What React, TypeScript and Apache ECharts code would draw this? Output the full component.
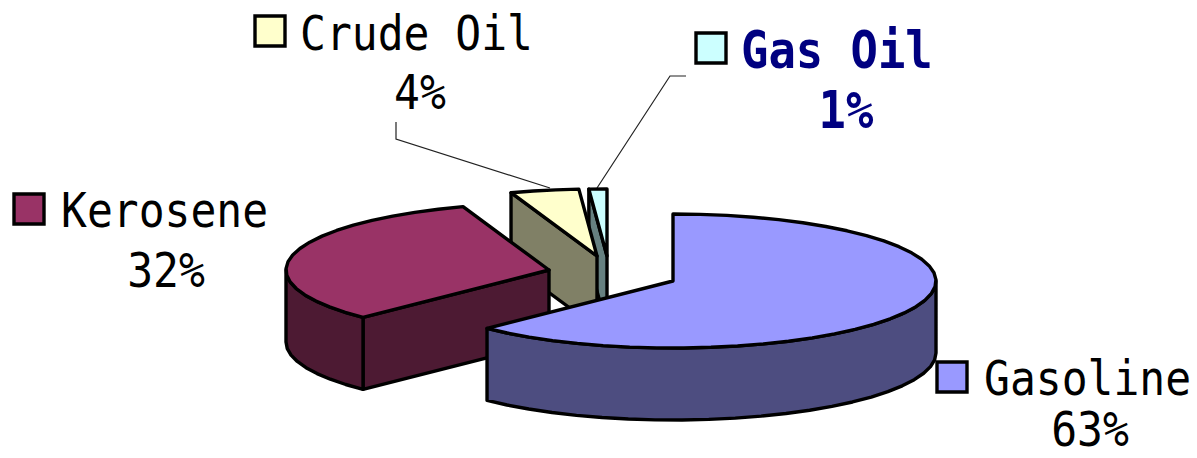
import React, { useEffect, useRef } from "react";
import * as echarts from "echarts";

const categories = ["Gasoline", "Kerosene", "Crude Oil", "Gas Oil"];
const shares = [62.5, 32.2, 4.2, 1.1];
const percentLabels = ["63%", "32%", "4%", "1%"];

const topColors = ["#9999ff", "#993366", "#ffffcc", "#ccffff"];
const sideColors = ["#4d4d80", "#4d1a33", "#808066", "#668080"];
const apexes = [[673, 281], [549, 270], [597, 256], [607, 256]];
const RX = 263;
const RY = 67;
const DEPTH = 72;
const STEP = 6;
const STROKE = 3.4;

const total = shares.reduce((a, b) => a + b, 0);
const startAngles = shares.map((_, i) => (shares.slice(0, i).reduce((a, b) => a + b, 0) / total) * 360);

const rad = (d: number) => (d * Math.PI) / 180;
const rim = (c: number[], a: number, drop = 0) => [
  c[0] + RX * Math.sin(rad(a)),
  c[1] - RY * Math.cos(rad(a)) + drop,
];
const arc = (c: number[], a0: number, a1: number, drop = 0) => {
  const pts: number[][] = [];
  const n = Math.max(1, Math.ceil((a1 - a0) / STEP));
  for (let k = 0; k <= n; k++) pts.push(rim(c, a0 + ((a1 - a0) * k) / n, drop));
  return pts;
};

function renderSlice(_: any, api: any) {
  const i = api.value(0);
  const a0 = startAngles[i];
  const a1 = a0 + (api.value(1) / total) * 360;
  const c = apexes[i];
  const children: any[] = [];
  const face = (points: number[][], fill: string) =>
    children.push({
      type: "polygon",
      shape: { points },
      style: { fill, stroke: "#000", lineWidth: STROKE, lineJoin: "round" },
    });
  const low = [c[0], c[1] + DEPTH];
  const cut = (a: number) => face([c, rim(c, a), rim(c, a, DEPTH), low], sideColors[i]);
  if (Math.sin(rad(a0)) < -1e-6) cut(a0);
  if (Math.sin(rad(a1)) > 1e-6) cut(a1);
  const w0 = Math.max(a0, 90);
  const w1 = Math.min(a1, 270);
  if (w1 > w0) face([...arc(c, w0, w1), ...arc(c, w0, w1, DEPTH).reverse()], sideColors[i]);
  face([c, ...arc(c, a0, a1)], topColors[i]);
  return { type: "group", children };
}

const LABEL_FONT = '"DejaVu Sans Mono", monospace';
const keys = [[937, 362], [14, 194], [255, 16], [696, 33]];
const names = [[984, 378], [61, 210], [300, 33], [741, 50]];
const percents = [[1090, 429], [166, 270], [420, 92], [846, 110]];
const labelColors = ["#000", "#000", "#000", "#000080"];
const labelWeights = ["normal", "normal", "normal", "bold"];
const labelSizes = [43, 43, 43, 45.5];
const leaders = [
  [[396, 122], [396, 139], [550, 188]],
  [[686, 76], [670, 76], [597, 188]],
];

const labelText = (text: string, p: number[], i: number, align: string) => ({
  type: "text",
  x: p[0],
  y: p[1],
  scaleY: 1.13,
  silent: true,
  style: {
    text,
    x: 0,
    y: 0,
    fill: labelColors[i],
    font: `${labelWeights[i]} ${labelSizes[i]}px ${LABEL_FONT}`,
    textAlign: align,
    textVerticalAlign: "middle",
  },
});

export default function App() {
  const ref = useRef<HTMLDivElement>(null);
  useEffect(() => {
    const chart = echarts.init(ref.current!, undefined, { renderer: "svg" });
    const elements: any[] = [];
    leaders.forEach((points) =>
      elements.push({
        type: "polyline",
        shape: { points },
        style: { stroke: "#222", lineWidth: 1.2, fill: "none" },
        silent: true,
      })
    );
    categories.forEach((name, i) => {
      elements.push({
        type: "rect",
        shape: { x: keys[i][0], y: keys[i][1], width: 30, height: 30 },
        style: { fill: topColors[i], stroke: "#000", lineWidth: STROKE },
        silent: true,
      });
      elements.push(labelText(name, names[i], i, "left"));
      elements.push(labelText(percentLabels[i], percents[i], i, "center"));
    });
    chart.setOption({
      animation: false,
      backgroundColor: "#fff",
      graphic: { elements },
      series: [
        {
          type: "custom",
          coordinateSystem: "none",
          renderItem: renderSlice,
          silent: true,
          // drawn back to front
          data: [3, 2, 1, 0].map((i) => ({ name: categories[i], value: [i, shares[i]] })),
        },
      ],
    });
    return () => chart.dispose();
  }, []);
  return (
    <div
      ref={ref}
      style={{ position: "absolute", left: 0, top: 0, width: 1197, height: 458, overflow: "hidden" }}
    />
  );
}
